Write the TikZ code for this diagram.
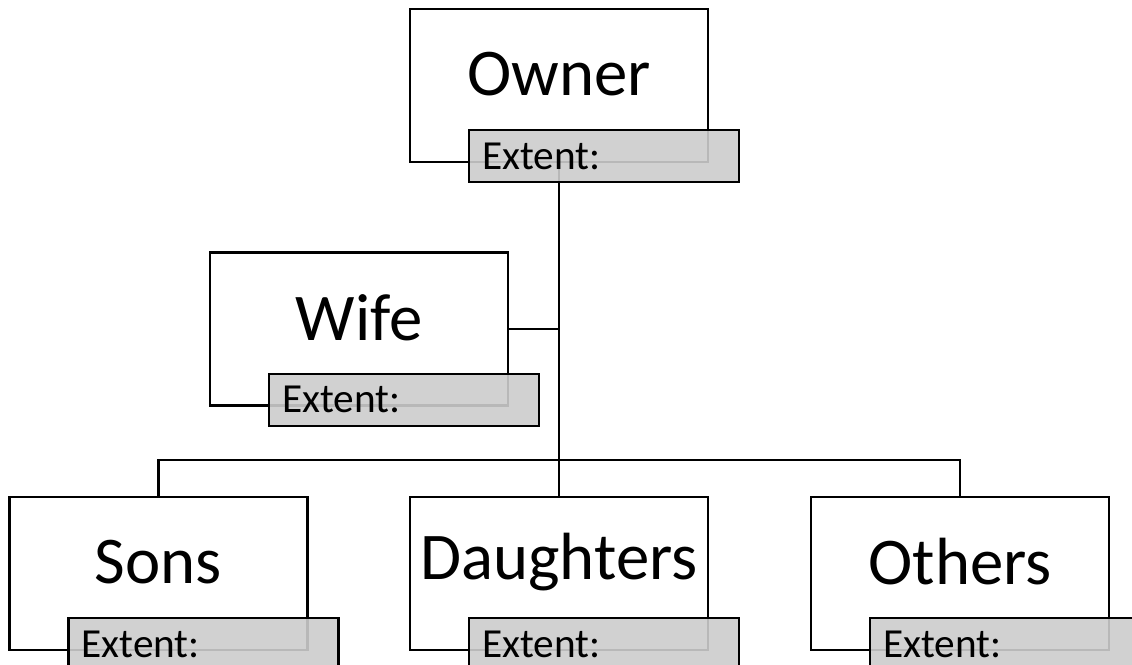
\documentclass[tikz,border=0pt]{standalone}
\usepackage{fontspec}
\setmainfont{Carlito}
\usetikzlibrary{positioning}

\begin{document}
\begin{tikzpicture}[x = .02cm, y = -.02cm,
	member/.style = {draw, line width = 1.2pt, fill = white, minimum width = 5.96cm, minimum height = 3.06cm, inner sep = 0pt},
	who/.style = {inner sep = 0pt, font = \fontsize{38}{46}\selectfont},
	extent/.style = {draw, line width = 1.2pt, fill = black!20, fill opacity = .9, text opacity = 1, minimum width = 5.4cm, minimum height = 1.04cm, inner xsep = .26cm, inner ysep = 0pt, text width = 4.88cm, align = left, font = \fontsize{23.5}{28}\selectfont},
	link/.style = {line width = 1.2pt}]
	\useasboundingbox (0,0) rectangle (1132,664);
	% family members
	\node[member] (owner) at (559,85.5) {};
	\node[member] (wife) at (359,329) {};
	\node[member] (sons) at (158.5,573.5) {};
	\node[member] (daughters) at (559,573.5) {};
	\node[member] (others) at (960,573.5) {};
	\node[who] (ownername) at ([yshift = -1.32cm]owner.north) {Owner};
	\node[who] (wifename) at ([yshift = -1.32cm]wife.north) {Wife};
	\node[who] (sonsname) at ([yshift = -1.32cm]sons.north) {Sons};
	\node[who] (daughtersname) at ([yshift = -1.32cm]daughters.north) {Daughters};
	\node[who] (othersname) at ([yshift = -1.32cm]others.north) {Others};
	% tree lines
	\coordinate (split) at (559,460);
	\draw[link] (owner.south) -- (daughters.north);
	\draw[link] (wife.east) -- (wife.east -| owner.south);
	\draw[link] (sons.north) |- (split) -| (others.north);
	% extent tags on top
	\node[extent, anchor = north west] (ownerext) at ([shift = {(1.18cm,.68cm)}]owner.south west) {Extent:};
	\node[extent, anchor = north west] (wifeext) at ([shift = {(1.18cm,.68cm)}]wife.south west) {Extent:};
	\node[extent, anchor = north west] (sonsext) at ([shift = {(1.18cm,.68cm)}]sons.south west) {Extent:};
	\node[extent, anchor = north west] (daughtersext) at ([shift = {(1.18cm,.68cm)}]daughters.south west) {Extent:};
	\node[extent, anchor = north west] (othersext) at ([shift = {(1.18cm,.68cm)}]others.south west) {Extent:};
\end{tikzpicture}
\end{document}
